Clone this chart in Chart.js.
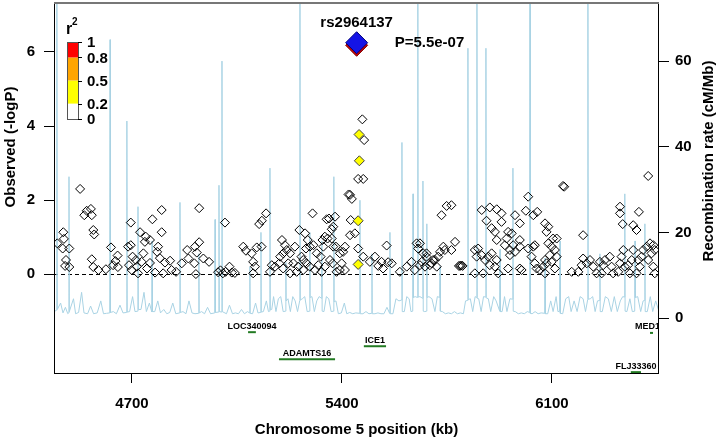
<!DOCTYPE html>
<html><head><meta charset="utf-8">
<script src="https://cdn.jsdelivr.net/npm/chart.js@4"></script>
<style>html,body{margin:0;padding:0;background:#fff}</style>
</head><body>
<canvas id="c" width="716" height="440"></canvas>
<script>
// ---------- data ----------
const xTicks = [4700, 5400, 6100];
const yTicks = [0, 2, 4, 6];
const y2Ticks = [0, 20, 40, 60];

const snpPos = [4451,4469,4471,4473,4477,4480,4491,4491,4527,4541,4549,4563,4566,4571,4574,4566,4571,4588,4613,4630,4637,4652,4653,4645,4696,4696,4687,4702,4690,4699,4716,4720,4713,4727,4746,4760,4743,4768,4799,4799,4787,4784,4738,4732,4777,4793,4810,4804,4750,4760,4827,4832,4847,4866,4884,4888,4908,4913,4910,4924,4916,4938,4957,4924,4987,4995,5003,5012,5025,5033,5043,5010,5071,5080,5099,5116,5132,5104,5110,5104,5124,5133,5147,
5160,5166,5177,5191,5194,5200,5204,5204,5210,5216,5221,5227,5227,5238,5243,5249,5254,5258,5265,5271,5271,5277,5280,5282,5286,5293,5293,5302,5305,5310,5316,5321,5329,5332,5335,5338,5343,5343,5349,5352,5357,5360,5366,5366,5369,5371,5371,5377,5380,5382,5393,5393,5399,5404,5410,5410,5422,5427,5429,5427,5433,5443,5454,5471,5468,5474,5454,5471,5493,5510,5521,5532,5537,5549,5554,5566,5593,5616,5632,5643,5649,5654,5660,5671,5682,5699,5710,5716,
5660,5682,5666,5677,5693,5704,5721,5727,5738,5743,5765,5777,5732,5749,5765,5790,5794,5798,5802,5843,5854,5849,5866,5877,5888,5899,5893,5916,5910,5921,5843,5871,5866,5882,5893,5916,5899,5910,5916,5932,5932,5943,5949,5954,5971,5966,5977,5993,6013,6021,6038,6051,5960,5977,5993,5993,6021,6038,6043,5960,5954,5993,5999,6043,6049,6032,6077,6060,6077,6082,6088,6104,6116,6088,6099,6110,6093,6082,6071,6099,6110,6077,6116,6137,6141,6204,6166,6188,6204,6216,6199,6227,6238,6249,6260,6271,6266,6277,6293,6299,6304,6321,6327,6338,6332,6343,6354,6366,6371,6360,6388,6393,6382,6399,6404,6416,6427,6438,6443,6432,6421,6438,6443,6327,6327,6336,6371,6382,6390,6421];
const snpLogP = [0.83,0.69,1.13,0.95,0.22,0.38,0.69,0.19,2.30,1.59,1.71,1.76,1.59,1.19,1.07,0.40,0.19,0.11,0.13,0.72,0.24,0.50,0.19,0.35,1.39,0.78,0.74,0.47,0.24,0.11,0.20,0.02,0.38,1.13,1.01,0.92,0.87,1.48,1.73,1.13,0.74,0.60,0.56,0.33,0.04,0.43,0.31,0.02,0.15,0.30,0.36,0.11,0.06,0.29,0.65,0.42,0.29,0.00,0.74,0.86,0.58,0.42,0.33,1.78,0.05,0.10,0.02,0.06,0.20,0.04,0.03,1.39,0.74,0.63,0.56,0.72,0.74,0.33,0.20,0.02,1.35,1.44,1.64,
0.06,0.24,0.20,0.29,0.47,0.92,0.15,0.56,0.78,0.65,0.29,0.56,0.02,0.29,0.74,0.06,0.20,1.19,0.47,0.11,0.38,1.10,0.69,0.29,0.92,0.20,0.74,1.64,0.78,0.11,0.56,0.24,0.47,0.06,0.92,0.74,1.01,0.20,1.48,0.96,1.50,0.38,0.96,1.21,0.29,1.28,0.74,1.55,0.74,0.06,0.56,0.11,0.29,0.60,0.74,0.11,2.15,2.14,1.46,1.05,2.03,1.10,2.57,2.57,4.18,3.62,0.69,0.47,0.33,0.47,0.22,0.33,0.15,0.77,0.32,0.29,0.06,0.20,0.33,0.11,0.83,0.69,0.24,0.56,0.47,0.29,0.38,0.20,
0.83,0.56,0.33,0.20,0.24,0.38,0.47,0.60,0.74,0.65,0.65,0.87,1.59,1.84,1.86,0.22,0.22,0.23,0.22,0.65,0.69,0.47,0.51,0.38,0.47,0.56,0.24,0.38,0.20,0.02,0.02,0.02,1.73,1.44,1.80,1.75,1.24,1.14,0.92,1.64,1.41,0.78,0.96,1.14,0.78,1.10,1.59,1.37,1.71,2.09,1.59,1.68,0.65,0.60,0.92,0.74,0.69,0.74,0.78,0.51,0.15,0.15,0.11,0.29,0.15,0.47,0.38,0.11,1.37,1.14,1.28,0.96,0.96,0.83,0.74,0.65,0.51,0.29,0.20,0.33,0.15,0.02,0.47,2.38,2.36,1.05,0.06,0.06,0.42,0.29,0.24,0.38,0.20,0.02,0.33,0.24,0.02,0.38,0.47,0.20,0.02,0.06,0.29,0.65,0.47,0.20,0.24,0.38,0.65,0.02,0.38,0.20,0.02,0.47,0.65,0.74,0.83,0.78,0.65,0.56,0.38,0.20,0.02,1.82,1.64,1.35,1.32,1.19,1.68,2.65];

// SNPs with r2 between 0.2 and 0.5
const midPos = [5457, 5458, 5454, 5454];
const midLogP = [3.77, 3.06, 1.44, 0.26];

// index SNP
const leadName = 'rs2964137';
const leadPos = [5449];
const leadLogP = [6.25];
const leadP = 'P=5.5e-07';

// recombination rate (cM/Mb)
const recPos = [4440,4448,4449,4450,4451,4462,4470,4478,4486,4489,4490,4491,4505,4512,4522,4532,4540,4552,4562,4572,4584,4596,4605,4615,4626,4627,4628,4638,4648,4660,4670,4682,4683,4684,4692,4702,4710,4719,4720,4721,4730,4740,4748,4758,4766,4767,4768,4776,4786,4795,4806,4816,4826,4836,4846,4859,4860,4861,4870,4880,4890,4900,4910,4922,4923,4924,4932,4942,4952,4962,4976,4977,4978,4989,4990,4991,4999,5000,5001,5015,5025,5035,5045,5055,5065,5075,5085,5092,5093,5094,5102,5112,5120,5129,5130,5131,5138,5148,5155,5159,5160,5161,5166,5172,5180,5188,5196,5204,5212,5213,5214,5220,5228,5236,5244,5252,5259,5260,5261,5268,5276,5284,5292,5293,5294,5300,5308,5316,5324,5332,5333,5334,5340,5348,5356,5364,5372,5373,5374,5380,5388,5398,5408,5416,5426,5436,5446,5459,5460,5461,5470,5480,5490,5499,5500,5501,5510,5520,5530,5540,5550,5559,5560,5561,5570,5580,5590,5599,5600,5601,5608,5616,5624,5630,5636,5637,5638,5644,5652,5653,5654,5660,5669,5670,5671,5676,5682,5683,5684,5690,5700,5710,5718,5726,5727,5728,5735,5745,5755,5765,5775,5785,5795,5805,5812,5819,5820,5821,5828,5836,5844,5849,5850,5851,5856,5864,5872,5879,5880,5881,5888,5896,5906,5914,5926,5927,5928,5934,5942,5950,5960,5969,5970,5971,5978,5988,5998,6008,6018,6026,6027,6028,6034,6044,6054,6064,6076,6077,6078,6086,6096,6104,6114,6120,6126,6127,6128,6136,6146,6156,6164,6174,6184,6194,6204,6212,6219,6220,6221,6228,6236,6244,6252,6259,6260,6261,6268,6278,6288,6298,6308,6318,6328,6336,6342,6343,6344,6350,6360,6368,6376,6377,6378,6386,6396,6404,6409,6410,6411,6418,6428,6436,6446,6457];
const recRate = [1.5,1.8,1.8,80,2.0,3.5,1.2,2.5,1.0,1.2,33,1.5,4.5,1.0,1.3,6.0,1.2,1.0,2.8,1.0,1.2,4.0,1.0,1.1,1.2,65,1.3,1.5,1.0,3.0,1.2,1.3,46,1.4,1.5,5.0,1.5,1.6,26,2.0,2.0,6.0,1.5,3.5,1.4,18,1.5,1.5,4.0,1.2,2.0,1.0,1.3,3.5,1.0,1.2,27,1.3,1.5,1.0,4.0,1.2,1.0,1.1,15,1.2,1.5,1.0,2.5,1.0,1.2,23,1.3,1.4,31,1.5,1.4,60,1.5,1.0,3.0,1.0,1.2,1.0,2.0,1.0,1.5,1.2,12,1.1,1.0,3.5,1.2,1.3,20,1.4,1.5,4.0,1.5,1.6,35,2.0,2.0,5.0,1.5,4.5,5.0,1.5,1.6,13,4.0,4.5,1.5,5.0,4.0,1.5,4.0,80,4.2,4.5,5.0,1.5,1.6,20,4.8,5.0,1.5,4.0,5.0,4.6,18,1.6,1.5,5.0,4.5,1.5,1.6,33,3.8,4.0,1.0,1.2,3.5,1.0,1.3,1.0,1.2,1.1,27.5,1.0,1.0,1.5,1.0,1.1,15,1.0,1.0,1.2,1.0,1.0,2.5,1.1,20,1.0,1.0,4.5,4.0,4.2,41,1.5,1.5,5.0,4.5,1.5,1.6,29,4.8,5.0,4.8,80,4.9,5.0,4.6,32,1.6,1.5,1.6,22,4.8,5.0,4.5,1.5,5.0,4.8,12,1.6,1.5,1.0,1.2,1.0,1.5,1.0,1.2,1.0,4.0,4.1,63,4.3,4.5,1.5,5.0,4.8,80,4.6,4.5,1.5,5.0,4.9,63,4.7,4.5,1.5,5.0,4.0,1.6,16,1.5,1.5,5.0,1.5,4.5,4.4,35,1.6,1.5,1.0,1.2,1.0,1.5,1.3,80,1.1,1.0,1.5,1.0,1.2,1.1,14,1.0,1.0,4.0,1.5,5.0,1.5,1.6,18,1.1,1.0,4.5,5.0,1.5,4.0,1.5,5.0,4.5,1.5,4.2,80,4.4,4.5,5.0,1.5,4.0,4.1,15,1.5,1.5,5.0,4.5,1.5,5.0,1.5,4.0,5.0,4.9,29,1.6,1.5,4.5,1.5,1.6,18,4.8,5.0,1.5,4.0,4.1,22,1.5,1.5,5.0,1.5,4.0,1.5];

// genes (kb) and their track row on the -logP scale
const geneNames = ['LOC340094', 'ADAMTS16', 'ICE1', 'MED1', 'FLJ33360'];
const geneStart = [5087, 5190, 5473, 6427, 6363];
const geneEnd = [5113, 5377, 5547, 6437, 6397];
const geneRow = [-1.57, -2.30, -1.95, -1.59, -2.65];

// r2 legend
const legendBreaks = [0, 0.2, 0.5, 0.8, 1];
const legendLabels = ['0', '0.2', '0.5', '0.8', '1'];
const legendColors = ['#ffffff', '#ffff00', '#ffa500', '#ff0000'];

// ---------- chart ----------
const FONT = 'Liberation Sans, Arial, Helvetica, sans-serif';
const toXY = (xs, ys) => xs.map((x, i) => ({x: x, y: ys[i]}));

const datasets = [];
datasets.push({type: 'scatter', label: 'lead', data: toXY(leadPos, leadLogP), yAxisID: 'y',
  pointStyle: 'rectRot', pointRadius: 11, backgroundColor: '#1414e6', borderColor: '#00007a', borderWidth: 1, order: 1});
datasets.push({type: 'scatter', label: 'leadShadow', data: toXY(leadPos, leadLogP.map(v => v - 0.07)), yAxisID: 'y',
  pointStyle: 'rectRot', pointRadius: 11, backgroundColor: '#c00000', borderColor: '#800000', borderWidth: 1, order: 2});
datasets.push({type: 'scatter', label: 'mid', data: toXY(midPos, midLogP), yAxisID: 'y',
  pointStyle: 'rectRot', pointRadius: 5, backgroundColor: '#ffff00', borderColor: '#404040', borderWidth: 1, order: 3});
datasets.push({type: 'scatter', label: 'snps', data: toXY(snpPos, snpLogP), yAxisID: 'y',
  pointStyle: 'rectRot', pointRadius: 4.5, backgroundColor: 'rgba(255,255,255,0)', borderColor: '#000', borderWidth: 1, order: 4});
geneNames.forEach((g, i) => {
  datasets.push({type: 'line', label: g, data: [{x: geneStart[i], y: geneRow[i]}, {x: geneEnd[i], y: geneRow[i]}],
    yAxisID: 'y', borderColor: '#227a22', borderWidth: 2, pointRadius: 0, order: 5});
});
datasets.push({type: 'line', label: 'recomb', data: toXY(recPos, recRate), yAxisID: 'y2',
  borderColor: '#a9d3e4', borderWidth: 1, pointRadius: 0, tension: 0, clip: 0, order: 10});

const overlay = {
  id: 'overlay',
  beforeDatasetsDraw(chart) {
    const {ctx, chartArea: a, scales} = chart;
    const y0 = Math.round(scales.y.getPixelForValue(0)) + 0.5;
    ctx.save();
    ctx.strokeStyle = '#000'; ctx.lineWidth = 1; ctx.setLineDash([4, 3]);
    ctx.beginPath(); ctx.moveTo(a.left, y0); ctx.lineTo(a.right, y0); ctx.stroke();
    ctx.restore();
  },
  afterDraw(chart) {
    const {ctx, chartArea: a, scales} = chart;
    const xs = scales.x, ys = scales.y;
    ctx.save();
    // box
    ctx.strokeStyle = '#000'; ctx.lineWidth = 1;
    ctx.strokeRect(a.left + 0.5, a.top + 0.5, a.right - a.left - 1, a.bottom - a.top - 1);
    ctx.strokeStyle = '#777'; ctx.lineWidth = 2;
    ctx.beginPath(); ctx.moveTo(a.left, a.top + 1); ctx.lineTo(a.right, a.top + 1); ctx.stroke();

    // gene labels (clipped to plot box, kept inside when near the edge)
    ctx.save();
    ctx.beginPath(); ctx.rect(a.left, a.top, a.right - a.left, a.bottom - a.top); ctx.clip();
    ctx.fillStyle = '#000'; ctx.font = 'bold 9px ' + FONT; ctx.textAlign = 'center'; ctx.textBaseline = 'middle';
    geneNames.forEach((g, i) => {
      let cx = (xs.getPixelForValue(geneStart[i]) + xs.getPixelForValue(geneEnd[i])) / 2;
      const w = ctx.measureText(g).width;
      if (cx + w / 2 > a.right + 1) cx = a.right + 1 - w / 2;
      const cy = ys.getPixelForValue(geneRow[i]) - 6;
      ctx.fillText(g, cx, cy);
    });
    ctx.restore();

    // lead SNP labels
    const lx = xs.getPixelForValue(leadPos[0]), ly = ys.getPixelForValue(leadLogP[0]);
    ctx.fillStyle = '#000'; ctx.font = 'bold 15px ' + FONT; ctx.textBaseline = 'middle';
    ctx.textAlign = 'center'; ctx.fillText(leadName, lx, ly - 20);
    ctx.textAlign = 'left'; ctx.fillText(leadP, lx + 38, ly);

    // r2 legend
    const bx = 67, bw = 11, bTop = 42, bBot = 119;
    const py = v => bBot - (bBot - bTop) * v;
    for (let i = 0; i < legendColors.length; i++) {
      ctx.fillStyle = legendColors[i];
      ctx.fillRect(bx, py(legendBreaks[i + 1]), bw, py(legendBreaks[i]) - py(legendBreaks[i + 1]));
    }
    ctx.strokeStyle = '#555'; ctx.lineWidth = 1;
    ctx.strokeRect(bx + 0.5, bTop + 0.5, bw, bBot - bTop);
    ctx.strokeStyle = '#000';
    ctx.font = 'bold 15px ' + FONT; ctx.fillStyle = '#000'; ctx.textAlign = 'left'; ctx.textBaseline = 'middle';
    legendBreaks.forEach((v, i) => {
      const yy = Math.round(py(v)) + 0.5;
      ctx.beginPath(); ctx.moveTo(bx + bw, yy); ctx.lineTo(bx + bw + 4, yy); ctx.stroke();
      ctx.fillText(legendLabels[i], bx + bw + 9, py(v) + 1);
    });
    ctx.font = 'bold 16px ' + FONT; ctx.fillText('r', 66, 30);
    ctx.font = 'bold 10px ' + FONT; ctx.fillText('2', 72, 22);

    // axis titles
    ctx.font = 'bold 15px ' + FONT; ctx.textAlign = 'center'; ctx.textBaseline = 'middle';
    ctx.fillText('Chromosome 5 position (kb)', (a.left + a.right) / 2, 430);
    ctx.save(); ctx.translate(11, 147); ctx.rotate(-Math.PI / 2);
    ctx.fillText('Observed (-logP)', 0, 0); ctx.restore();
    ctx.save(); ctx.translate(709, 161); ctx.rotate(-Math.PI / 2);
    ctx.fillText('Recombination rate (cM/Mb)', 0, 0); ctx.restore();
    ctx.restore();
  }
};

const tickFont = {family: FONT, size: 15, weight: 'bold'};
const fixedTicks = list => scale => { scale.ticks = list.map(v => ({value: v})); };
const fitX = s => { s.height = 66; s.paddingLeft = 0; s.paddingRight = 0; s.paddingTop = 0; s.paddingBottom = 0; };
const fitY = w => s => { s.width = w; s.paddingTop = 0; s.paddingBottom = 0; s.paddingLeft = 0; s.paddingRight = 0; };

new Chart(document.getElementById('c').getContext('2d'), {
  type: 'scatter',
  data: {datasets: datasets},
  options: {
    responsive: false, animation: false, devicePixelRatio: 1, events: [],
    layout: {autoPadding: false, padding: {top: 2, left: 0, right: 0, bottom: 0}},
    plugins: {legend: {display: false}, tooltip: {enabled: false}},
    scales: {
      x: {type: 'linear', position: 'bottom', min: 4440, max: 6457,
        afterBuildTicks: fixedTicks(xTicks), afterFit: fitX,
        grid: {drawOnChartArea: false, drawTicks: true, tickLength: 9, color: '#000'},
        border: {display: false},
        ticks: {font: tickFont, color: '#000', padding: 12, maxRotation: 0, callback: v => String(v)}},
      y: {type: 'linear', position: 'left', min: -2.70, max: 7.35,
        afterBuildTicks: fixedTicks(yTicks), afterFit: fitY(54),
        grid: {drawOnChartArea: false, drawTicks: true, tickLength: 10, color: '#000'},
        border: {display: false},
        ticks: {font: tickFont, color: '#000', padding: 9, callback: v => String(v)}},
      y2: {type: 'linear', position: 'right', min: -13.07, max: 73.8,
        afterBuildTicks: fixedTicks(y2Ticks), afterFit: fitY(57),
        grid: {drawOnChartArea: false, drawTicks: true, tickLength: 10, color: '#000'},
        border: {display: false},
        ticks: {font: tickFont, color: '#000', padding: 6, callback: v => String(v)}}
    }
  },
  plugins: [overlay]
});
</script>
</body></html>
